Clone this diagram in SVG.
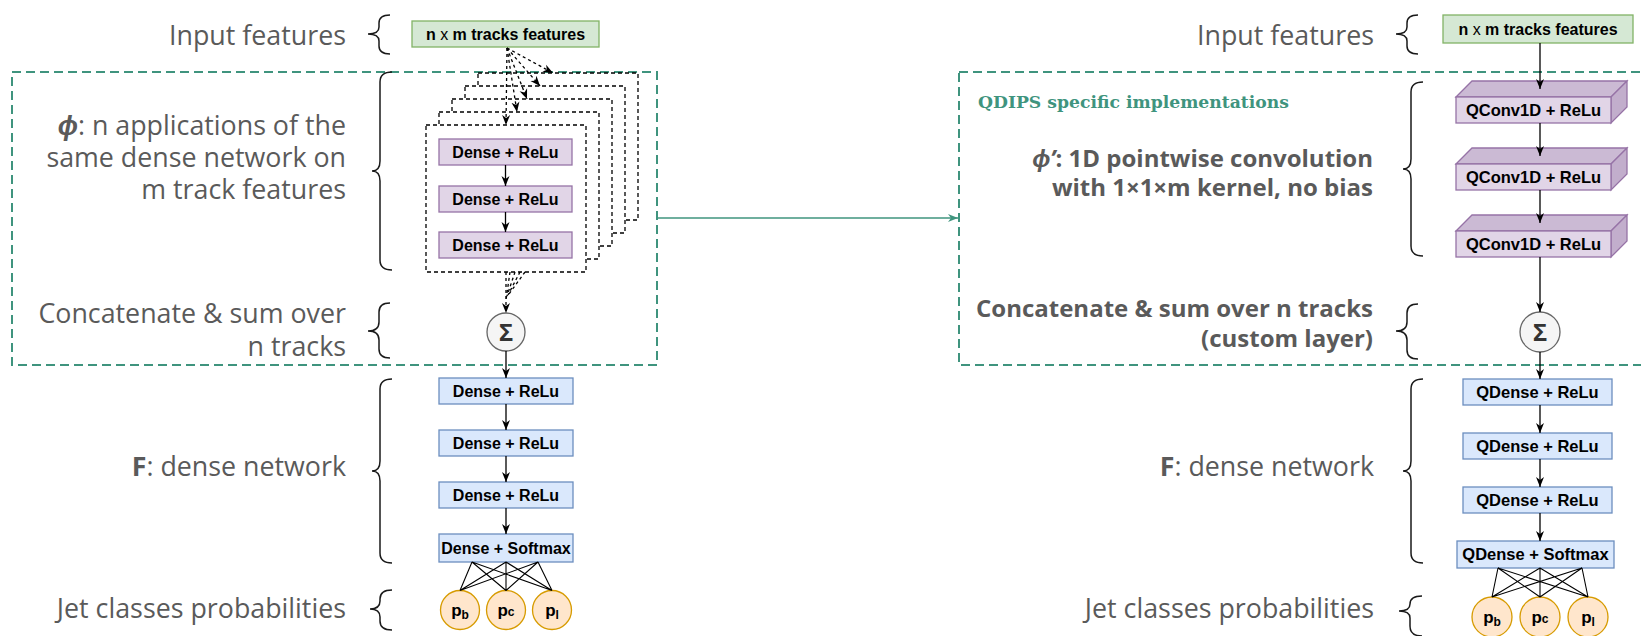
<svg xmlns="http://www.w3.org/2000/svg" width="1641" height="636" viewBox="0 0 1641 636">
<defs>
<style>
.lbl{font-family:"Open Sans","Liberation Sans",sans-serif;font-size:26.8px;fill:#5a5a5a;text-anchor:end}
.lblb{font-family:"Open Sans","Liberation Sans",sans-serif;font-size:24px;font-weight:bold;fill:#5a5a5a;text-anchor:end}
.brace{fill:none;stroke:#1a1a1a;stroke-width:1.5}
.green{fill:#d5e8d4;stroke:#82b366;stroke-width:1.3}
.purple{fill:#e1d5e7;stroke:#9673a6;stroke-width:1.3}
.ptop{fill:#cbbad4;stroke:#9673a6;stroke-width:1.3}
.pside{fill:#c2aecc;stroke:#9673a6;stroke-width:1.3}
.blue{fill:#dae8fc;stroke:#6c8ebf;stroke-width:1.3}
.orange{fill:#ffe6cc;stroke:#d79b00;stroke-width:1.3}
.sum{fill:#f5f5f5;stroke:#666666;stroke-width:1.3}
.bt{font-family:"Liberation Sans",Arial,sans-serif;font-size:16px;font-weight:bold;fill:#000;text-anchor:middle}
.btr{font-family:"Liberation Sans",Arial,sans-serif;font-size:16.5px;font-weight:bold;fill:#000;text-anchor:middle}
.st{font-family:"Open Sans","Liberation Sans",sans-serif;font-size:24px;font-weight:bold;fill:#333;text-anchor:middle}
.pt{font-family:"Liberation Sans",Arial,sans-serif;font-size:17px;font-weight:bold;fill:#000;text-anchor:middle}
.dbox{fill:#fff;stroke:#000;stroke-width:1.3;stroke-dasharray:4 3}
.gdash{fill:none;stroke:#3f947e;stroke-width:2;stroke-dasharray:9 5}
.arr{fill:none;stroke:#000;stroke-width:1.3;marker-end:url(#ah)}
.darr{fill:none;stroke:#000;stroke-width:1.3;stroke-dasharray:3 3;marker-end:url(#ah)}
.dl{fill:none;stroke:#000;stroke-width:1.3;stroke-dasharray:3 3}
.fan{fill:none;stroke:#000;stroke-width:1.1}
</style>
<marker id="ah" viewBox="0 0 10 10" refX="10" refY="5" markerWidth="10" markerHeight="10" orient="auto" markerUnits="userSpaceOnUse"><path d="M0,1 L10,5 L0,9 L3,5 z" fill="#000"/></marker>
<marker id="ahg" viewBox="0 0 10 10" refX="10" refY="5" markerWidth="10" markerHeight="10" orient="auto" markerUnits="userSpaceOnUse"><path d="M0,1 L10,5 L0,9 L3,5 z" fill="#3f947e"/></marker>
</defs>
<rect width="1641" height="636" fill="#fff"/>

<!-- group frames -->
<g id="left-group"><rect class="gdash" x="12" y="72" width="645" height="293"/></g>
<g id="right-group"><rect class="gdash" x="959" y="72" width="720" height="293"/>
<text x="978" y="108" textLength="311" lengthAdjust="spacingAndGlyphs" style="font-family:'DejaVu Serif','Liberation Serif',serif;font-size:17px;font-weight:bold;fill:#3f947e">QDIPS specific implementations</text></g>

<!-- left labels -->
<g id="left-labels">
<text class="lbl" x="346" y="45">Input features</text>
<text class="lbl" x="346" y="135"><tspan font-weight="bold" font-style="italic">ϕ</tspan>: n applications of the<tspan x="346" dy="32">same dense network on</tspan><tspan x="346" dy="32">m track features</tspan></text>
<text class="lbl" x="346" y="323">Concatenate &amp; sum over<tspan x="346" dy="33">n tracks</tspan></text>
<text class="lbl" x="346" y="476"><tspan font-weight="bold">F</tspan>: dense network</text>
<text class="lbl" x="346" y="618">Jet classes probabilities</text>
<path class="brace" d="M390,15 Q379,15 379,23 L379,27 Q379,34 368,34 Q379,34 379,41 L379,46 Q379,54 390,54"/>
<path class="brace" d="M392,72 Q380,72 380,82 L380,161 Q380,171 372,171 Q380,171 380,181 L380,260 Q380,270 392,270"/>
<path class="brace" d="M390,303 Q379,303 379,312 L379,322 Q379,331 368,331 Q379,331 379,340 L379,349 Q379,358 390,358"/>
<path class="brace" d="M392,379 Q380,379 380,389 L380,461 Q380,471 372,471 Q380,471 380,481 L380,553 Q380,563 392,563"/>
<path class="brace" d="M392,590 Q380,590 380,599 L380,601 Q380,609 370,609 Q380,609 380,617 L380,621 Q380,630 392,630"/>
</g>

<!-- right labels -->
<g id="right-labels">
<text class="lbl" x="1374" y="45">Input features</text>
<text class="lblb" x="1373" y="167"><tspan font-style="italic">ϕ’</tspan>: 1D pointwise convolution<tspan x="1373" dy="29">with 1×1×m kernel, no bias</tspan></text>
<text class="lblb" x="1373" y="317">Concatenate &amp; sum over n tracks<tspan x="1373" dy="30">(custom layer)</tspan></text>
<text class="lbl" x="1374" y="476"><tspan font-weight="bold">F</tspan>: dense network</text>
<text class="lbl" x="1374" y="618">Jet classes probabilities</text>
<path class="brace" d="M1418,15 Q1407,15 1407,23 L1407,27 Q1407,34 1396,34 Q1407,34 1407,41 L1407,46 Q1407,54 1418,54"/>
<path class="brace" d="M1423,82 Q1411,82 1411,92 L1411,159 Q1411,169 1403,169 Q1411,169 1411,179 L1411,246 Q1411,256 1423,256"/>
<path class="brace" d="M1418,304 Q1407,304 1407,313 L1407,322 Q1407,331 1396,331 Q1407,331 1407,340 L1407,350 Q1407,359 1418,359"/>
<path class="brace" d="M1423,379 Q1411,379 1411,389 L1411,461 Q1411,471 1403,471 Q1411,471 1411,481 L1411,553 Q1411,563 1423,563"/>
<path class="brace" d="M1422,596 Q1410,596 1410,604 L1410,604 Q1410,611 1399,611 Q1410,611 1410,618 L1410,626 Q1410,636 1422,636"/>
</g>

<!-- left nodes -->
<g id="l-input"><rect class="green" x="412" y="21" width="187" height="26"/><text class="bt" x="505.5" y="39.5">n <tspan font-weight="normal">x</tspan> m tracks features</text></g>
<g id="l-stack">
<rect class="dbox" x="478" y="73" width="160" height="147"/>
<rect class="dbox" x="465" y="86" width="160" height="147"/>
<rect class="dbox" x="452" y="99" width="160" height="147"/>
<rect class="dbox" x="439" y="112" width="160" height="147"/>
<rect class="dbox" x="426" y="125" width="160" height="147"/>
</g>
<g id="l-phi1"><rect class="purple" x="439" y="139" width="133" height="26"/><text class="bt" x="505.5" y="157.5">Dense + ReLu</text></g>
<g id="l-phi2"><rect class="purple" x="439" y="186" width="133" height="26"/><text class="bt" x="505.5" y="204.5">Dense + ReLu</text></g>
<g id="l-phi3"><rect class="purple" x="439" y="232" width="133" height="26"/><text class="bt" x="505.5" y="250.5">Dense + ReLu</text></g>
<g id="l-sum"><circle class="sum" cx="506" cy="332" r="19"/><text class="st" x="506" y="340.5">Σ</text></g>
<g id="l-f1"><rect class="blue" x="439" y="378" width="134" height="26"/><text class="bt" x="506" y="396.5">Dense + ReLu</text></g>
<g id="l-f2"><rect class="blue" x="439" y="430" width="134" height="26"/><text class="bt" x="506" y="448.5">Dense + ReLu</text></g>
<g id="l-f3"><rect class="blue" x="439" y="482" width="134" height="26"/><text class="bt" x="506" y="500.5">Dense + ReLu</text></g>
<g id="l-f4"><rect class="blue" x="439" y="534" width="134" height="28"/><text class="bt" x="506" y="553.5">Dense + Softmax</text></g>
<g id="l-pb"><circle class="orange" cx="460" cy="610" r="19.5"/><text class="pt" x="460" y="616">p<tspan font-size="12" dy="3">b</tspan></text></g>
<g id="l-pc"><circle class="orange" cx="506" cy="610" r="19.5"/><text class="pt" x="506" y="616">p<tspan font-size="12" dy="0">c</tspan></text></g>
<g id="l-pl"><circle class="orange" cx="552" cy="610" r="19.5"/><text class="pt" x="552" y="616">p<tspan font-size="12" dy="3">l</tspan></text></g>

<!-- right nodes -->
<g id="r-input"><rect class="green" x="1443" y="15" width="190" height="28"/><text class="bt" x="1538" y="34.5">n <tspan font-weight="normal">x</tspan> m tracks features</text></g>
<g id="r-phi1"><path class="ptop" d="M1456,97 L1472,81 L1627,81 L1611,97 Z"/><path class="pside" d="M1611,97 L1627,81 L1627,107 L1611,123 Z"/><rect class="purple" x="1456" y="97" width="155" height="26"/><text class="btr" x="1533.5" y="115.8">QConv1D + ReLu</text></g>
<g id="r-phi2"><path class="ptop" d="M1456,164 L1472,148 L1627,148 L1611,164 Z"/><path class="pside" d="M1611,164 L1627,148 L1627,174 L1611,190 Z"/><rect class="purple" x="1456" y="164" width="155" height="26"/><text class="btr" x="1533.5" y="182.8">QConv1D + ReLu</text></g>
<g id="r-phi3"><path class="ptop" d="M1456,231 L1472,215 L1627,215 L1611,231 Z"/><path class="pside" d="M1611,231 L1627,215 L1627,241 L1611,257 Z"/><rect class="purple" x="1456" y="231" width="155" height="26"/><text class="btr" x="1533.5" y="249.8">QConv1D + ReLu</text></g>
<g id="r-sum"><circle class="sum" cx="1540" cy="332" r="20"/><text class="st" x="1540" y="340.5">Σ</text></g>
<g id="r-f1"><rect class="blue" x="1463" y="379" width="149" height="26"/><text class="btr" x="1537.5" y="397.8">QDense + ReLu</text></g>
<g id="r-f2"><rect class="blue" x="1463" y="433" width="149" height="26"/><text class="btr" x="1537.5" y="451.8">QDense + ReLu</text></g>
<g id="r-f3"><rect class="blue" x="1463" y="487" width="149" height="26"/><text class="btr" x="1537.5" y="505.8">QDense + ReLu</text></g>
<g id="r-f4"><rect class="blue" x="1457" y="541" width="157" height="27"/><text class="btr" x="1535.5" y="560.3">QDense + Softmax</text></g>
<g id="r-pb"><circle class="orange" cx="1492" cy="617" r="20"/><text class="pt" x="1492" y="623">p<tspan font-size="12" dy="3">b</tspan></text></g>
<g id="r-pc"><circle class="orange" cx="1540" cy="617" r="20"/><text class="pt" x="1540" y="623">p<tspan font-size="12">c</tspan></text></g>
<g id="r-pl"><circle class="orange" cx="1588" cy="617" r="20"/><text class="pt" x="1588" y="623">p<tspan font-size="12" dy="3">l</tspan></text></g>

<!-- connectors -->
<g id="connectors">
<path class="darr" d="M507,48 L553,73"/>
<path class="darr" d="M507,48 L540,86"/>
<path class="darr" d="M507,48 L527,99"/>
<path class="darr" d="M507,48 L517,112"/>
<path class="darr" d="M507,48 L506,125"/>
<path class="arr" d="M505.5,165 L505.5,186"/>
<path class="arr" d="M505.5,212 L505.5,232"/>
<path class="dl" d="M510,272 L506,300"/>
<path class="dl" d="M515,272 L507,296"/>
<path class="dl" d="M520,272 L508,295"/>
<path class="dl" d="M525,272 L509,294"/>
<path class="darr" d="M506,272 L506,313"/>
<path class="arr" d="M506,351 L506,378"/>
<path class="arr" d="M506,404 L506,430"/>
<path class="arr" d="M506,456 L506,482"/>
<path class="arr" d="M506,508 L506,534"/>
<path class="fan" d="M472,562 L460,590.5 M472,562 L506,590.5 M472,562 L552,590.5 M506,562 L460,590.5 M506,562 L506,590.5 M506,562 L552,590.5 M538,562 L460,590.5 M538,562 L506,590.5 M538,562 L552,590.5"/>
<path d="M657,218 L958,218" fill="none" stroke="#3f947e" stroke-width="1.5" marker-end="url(#ahg)"/>
<path class="arr" d="M1540,43 L1540,89"/>
<path class="arr" d="M1540,123 L1540,156"/>
<path class="arr" d="M1540,190 L1540,223"/>
<path class="arr" d="M1540,257 L1540,312"/>
<path class="arr" d="M1540,352 L1540,379"/>
<path class="arr" d="M1540,405 L1540,433"/>
<path class="arr" d="M1540,459 L1540,487"/>
<path class="arr" d="M1540,513 L1540,541"/>
<path class="fan" d="M1498,568 L1492,597 M1498,568 L1540,597 M1498,568 L1588,597 M1540,568 L1492,597 M1540,568 L1540,597 M1540,568 L1588,597 M1582,568 L1492,597 M1582,568 L1540,597 M1582,568 L1588,597"/>
</g>
</svg>
